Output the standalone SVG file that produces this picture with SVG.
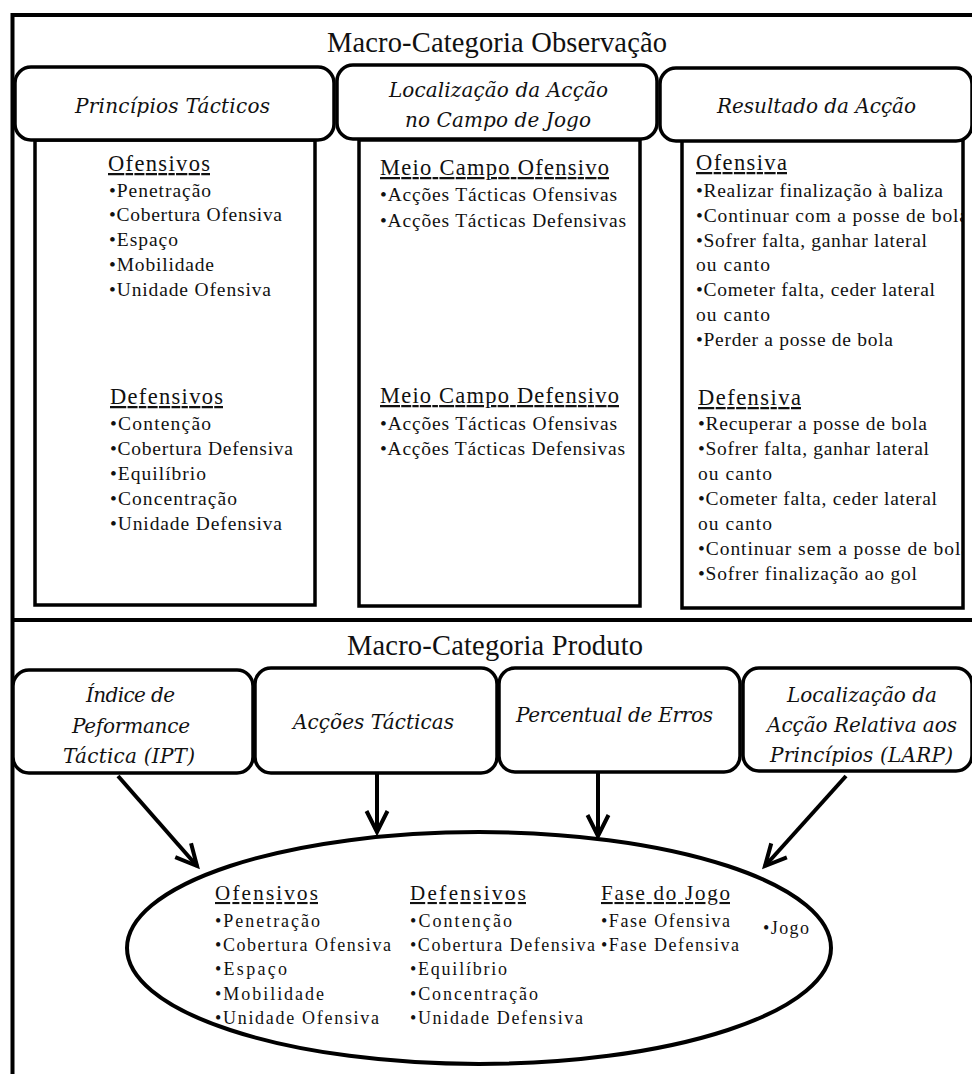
<svg xmlns="http://www.w3.org/2000/svg" width="972" height="1074" viewBox="0 0 972 1074">
<style>
.frame{stroke:#000;stroke-width:4;fill:none}
.box{fill:#fff;stroke:#000;stroke-width:3.5}
.panel{fill:#fff;stroke:#000;stroke-width:3.5}
.title{font-family:"Liberation Serif","Times New Roman",serif;font-size:28.5px;fill:#111}
.lbl{font-family:"DejaVu Serif","Liberation Serif",serif;font-style:italic;font-size:20px;fill:#111}
.hd{font-family:"Liberation Serif","Times New Roman",serif;font-size:22.5px;text-decoration:underline;fill:#111}
.it{font-family:"Liberation Serif","Times New Roman",serif;font-size:19.5px;fill:#111}
.eh{font-family:"Liberation Serif","Times New Roman",serif;font-size:21px;text-decoration:underline;fill:#111}
.ei{font-family:"Liberation Serif","Times New Roman",serif;font-size:18px;fill:#111}
.conn{stroke:#000;stroke-width:4;fill:none}
</style>
<defs>
<marker id="arr" markerUnits="userSpaceOnUse" markerWidth="40" markerHeight="40" refX="0" refY="0" orient="auto" overflow="visible">
<path d="M-21,-10.5 L0,0 L-21,10.5" fill="none" stroke="#000" stroke-width="4" stroke-linejoin="miter"/>
</marker>
<clipPath id="clip3"><rect x="682" y="140" width="281" height="470"/></clipPath>
</defs>
<rect x="0" y="0" width="972" height="1074" fill="#fff"/>

<g id="frame">
<path class="frame" d="M12.5,1074 L12.5,15 L980,15"/>
<line class="frame" x1="12.5" y1="620" x2="980" y2="620"/>
<text class="title" x="327" y="52" textLength="340">Macro-Categoria Observação</text>
<text class="title" x="347" y="655" textLength="296">Macro-Categoria Produto</text>
</g>

<g id="panel-principios">
<rect class="panel" x="35" y="140" width="280" height="465"/>
<text class="hd" x="108" y="171" textLength="102">Ofensivos</text>
<text class="it" x="109" y="197" textLength="102">•Penetração</text>
<text class="it" x="109" y="221" textLength="173">•Cobertura Ofensiva</text>
<text class="it" x="109" y="246" textLength="69">•Espaço</text>
<text class="it" x="109" y="271" textLength="105">•Mobilidade</text>
<text class="it" x="109" y="296" textLength="162">•Unidade Ofensiva</text>
<text class="hd" x="110" y="404" textLength="113">Defensivos</text>
<text class="it" x="110" y="430" textLength="101">•Contenção</text>
<text class="it" x="110" y="455" textLength="183">•Cobertura Defensiva</text>
<text class="it" x="110" y="480" textLength="96">•Equilíbrio</text>
<text class="it" x="110" y="505" textLength="127">•Concentração</text>
<text class="it" x="110" y="530" textLength="172">•Unidade Defensiva</text>
</g>

<g id="panel-localizacao">
<rect class="panel" x="359" y="140" width="281" height="466"/>
<text class="hd" x="380" y="175" textLength="229">Meio Campo Ofensivo</text>
<text class="it" x="380" y="201" textLength="237">•Acções Tácticas Ofensivas</text>
<text class="it" x="380" y="227" textLength="246">•Acções Tácticas Defensivas</text>
<text class="hd" x="380" y="403" textLength="239">Meio Campo Defensivo</text>
<text class="it" x="380" y="430" textLength="237">•Acções Tácticas Ofensivas</text>
<text class="it" x="380" y="455" textLength="245">•Acções Tácticas Defensivas</text>
</g>

<g id="panel-resultado">
<rect x="682" y="140" width="281" height="468" fill="#fff"/>
<g clip-path="url(#clip3)">
<text class="hd" x="696" y="170" textLength="91">Ofensiva</text>
<text class="it" x="696" y="197" textLength="247">•Realizar finalização à baliza</text>
<text class="it" x="696" y="222" textLength="272">•Continuar com a posse de bola</text>
<text class="it" x="696" y="247" textLength="231">•Sofrer falta, ganhar lateral</text>
<text class="it" x="696" y="271" textLength="74">ou canto</text>
<text class="it" x="696" y="296" textLength="239">•Cometer falta, ceder lateral</text>
<text class="it" x="696" y="321" textLength="74">ou canto</text>
<text class="it" x="696" y="346" textLength="197">•Perder a posse de bola</text>
<text class="hd" x="698" y="405" textLength="103">Defensiva</text>
<text class="it" x="698" y="430" textLength="229">•Recuperar a posse de bola</text>
<text class="it" x="698" y="455" textLength="231">•Sofrer falta, ganhar lateral</text>
<text class="it" x="698" y="480" textLength="74">ou canto</text>
<text class="it" x="698" y="505" textLength="239">•Cometer falta, ceder lateral</text>
<text class="it" x="698" y="530" textLength="74">ou canto</text>
<text class="it" x="698" y="555" textLength="272">•Continuar sem a posse de bola</text>
<text class="it" x="698" y="580" textLength="219">•Sofrer finalização ao gol</text>
</g>
<rect x="682" y="140" width="281" height="468" fill="none" stroke="#000" stroke-width="3.5"/>
</g>

<g id="box-principios">
<rect class="box" x="15" y="67" width="319" height="73" rx="16"/>
<text class="lbl" x="75" y="113" textLength="195">Princípios Tácticos</text>
</g>
<g id="box-localizacao">
<rect class="box" x="337" y="65" width="320" height="74" rx="16"/>
<text class="lbl" x="389" y="97" textLength="219">Localização da Acção</text>
<text class="lbl" x="405" y="127" textLength="186">no Campo de Jogo</text>
</g>
<g id="box-resultado">
<rect class="box" x="660" y="68" width="312" height="73" rx="16"/>
<text class="lbl" x="717" y="113" textLength="199">Resultado da Acção</text>
</g>

<g id="box-ipt">
<rect class="box" x="13" y="670" width="240" height="103" rx="16"/>
<text class="lbl" x="86" y="702" textLength="89">Índice de</text>
<text class="lbl" x="72" y="733" textLength="118">Peformance</text>
<text class="lbl" x="63" y="763" textLength="132">Táctica (IPT)</text>
</g>
<g id="box-accoes">
<rect class="box" x="255" y="668" width="242" height="105" rx="16"/>
<text class="lbl" x="293" y="729" textLength="161">Acções Tácticas</text>
</g>
<g id="box-erros">
<rect class="box" x="499" y="668" width="241" height="104" rx="16"/>
<text class="lbl" x="516" y="722" textLength="197">Percentual de Erros</text>
</g>
<g id="box-larp">
<rect class="box" x="743" y="668" width="229" height="103" rx="16"/>
<text class="lbl" x="787" y="702" textLength="150">Localização da</text>
<text class="lbl" x="767" y="732" textLength="190">Acção Relativa aos</text>
<text class="lbl" x="770" y="762" textLength="183">Princípios (LARP)</text>
</g>

<g id="connectors">
<line class="conn" x1="118" y1="776" x2="197" y2="866" marker-end="url(#arr)"/>
<line class="conn" x1="377" y1="774" x2="377" y2="832" marker-end="url(#arr)"/>
<line class="conn" x1="598" y1="773" x2="598" y2="836" marker-end="url(#arr)"/>
<line class="conn" x1="846" y1="776" x2="765" y2="866" marker-end="url(#arr)"/>
</g>

<g id="ellipse-produto">
<ellipse cx="479" cy="948" rx="352" ry="116" fill="none" stroke="#000" stroke-width="4"/>
<text class="eh" x="215" y="900" textLength="103">Ofensivos</text>
<text class="ei" x="215" y="927" textLength="105">•Penetração</text>
<text class="ei" x="215" y="951" textLength="176">•Cobertura Ofensiva</text>
<text class="ei" x="215" y="975" textLength="72">•Espaço</text>
<text class="ei" x="215" y="1000" textLength="109">•Mobilidade</text>
<text class="ei" x="215" y="1024" textLength="164">•Unidade Ofensiva</text>
<text class="eh" x="410" y="900" textLength="116">Defensivos</text>
<text class="ei" x="410" y="927" textLength="102">•Contenção</text>
<text class="ei" x="410" y="951" textLength="185">•Cobertura Defensiva</text>
<text class="ei" x="410" y="975" textLength="97">•Equilíbrio</text>
<text class="ei" x="410" y="1000" textLength="128">•Concentração</text>
<text class="ei" x="410" y="1024" textLength="173">•Unidade Defensiva</text>
<text class="eh" x="601" y="900" textLength="129">Fase do Jogo</text>
<text class="ei" x="601" y="927" textLength="129">•Fase Ofensiva</text>
<text class="ei" x="601" y="951" textLength="138">•Fase Defensiva</text>
<text class="ei" x="763" y="934" textLength="46">•Jogo</text>
</g>
</svg>
